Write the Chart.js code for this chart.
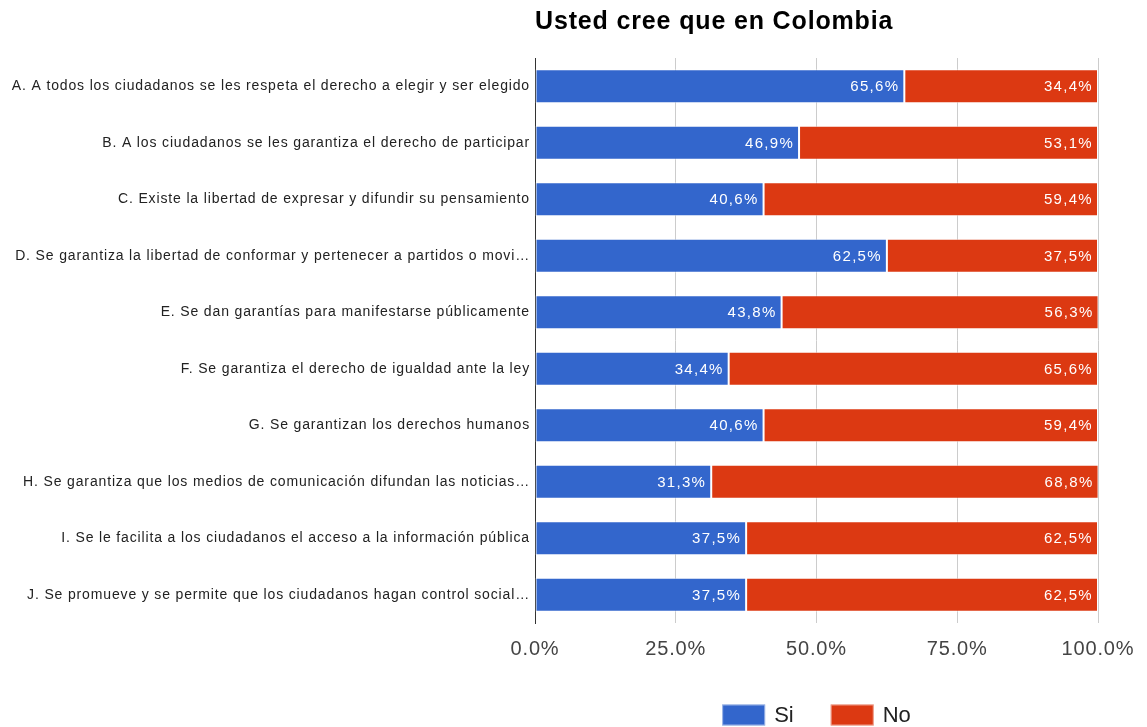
<!DOCTYPE html>
<html>
<head>
<meta charset="utf-8">
<script src="https://cdn.jsdelivr.net/npm/chart.js@4.4.1/dist/chart.umd.min.js"></script>
<style>
html,body{margin:0;padding:0;background:#fff;}
#wrap{width:1147px;height:727px;position:relative;}
</style>
</head>
<body>
<div id="wrap"><canvas id="c" width="1147" height="727"></canvas></div>
<script>
const categories = [
  "A. A todos los ciudadanos se les respeta el derecho a elegir y ser elegido",
  "B. A los ciudadanos se les garantiza el derecho de participar",
  "C. Existe la libertad de expresar y difundir su pensamiento",
  "D. Se garantiza la libertad de conformar y pertenecer a partidos o movi…",
  "E. Se dan garantías para manifestarse públicamente",
  "F. Se garantiza el derecho de igualdad ante la ley",
  "G. Se garantizan los derechos humanos",
  "H. Se garantiza que los medios de comunicación difundan las noticias…",
  "I. Se le facilita a los ciudadanos el acceso a la información pública",
  "J. Se promueve y se permite que los ciudadanos hagan control social…"
];
const siValues = [65.6, 46.9, 40.6, 62.5, 43.8, 34.4, 40.6, 31.3, 37.5, 37.5];
const noValues = [34.4, 53.1, 59.4, 37.5, 56.3, 65.6, 59.4, 68.8, 62.5, 62.5];
const xTicks = [0, 25, 50, 75, 100];
const seriesNames = ["Si", "No"];
const seriesColors = ["#3366cc", "#dc3912"];
const titleText = "Usted cree que en Colombia";

const FONT = "'Liberation Sans', Arial, sans-serif";

const spacing = {
  id: 'spacing',
  beforeDraw(chart) { chart.ctx.letterSpacing = '0.85px'; },
  afterDraw(chart) { chart.ctx.letterSpacing = '0px'; }
};

const valueLabels = {
  id: 'valueLabels',
  afterDatasetsDraw(chart) {
    const ctx = chart.ctx;
    ctx.save();
    ctx.letterSpacing = '1.3px';
    ctx.font = "15px " + FONT;
    ctx.fillStyle = "#ffffff";
    ctx.textAlign = "right";
    ctx.textBaseline = "middle";
    chart.data.datasets.forEach((ds, di) => {
      const meta = chart.getDatasetMeta(di);
      meta.data.forEach((bar, i) => {
        const v = ds.data[i];
        const txt = v.toFixed(1).replace('.', ',') + '%';
        ctx.fillText(txt, bar.x - 5, bar.y + 1);
      });
    });
    ctx.restore();
  }
};

const customLegend = {
  id: 'customLegend',
  afterDraw(chart) {
    const ctx = chart.ctx;
    const ca = chart.chartArea;
    ctx.save();
    ctx.letterSpacing = '0px';
    ctx.font = "22px " + FONT;
    ctx.textBaseline = "middle";
    ctx.textAlign = "left";
    const boxW = 43, boxH = 21, gapText = 9, gapItem = 37;
    const items = chart.data.datasets.map(ds => ({ label: ds.label, color: ds.backgroundColor, w: ctx.measureText(ds.label).width }));
    let total = 0;
    items.forEach((it, i) => { total += boxW + gapText + it.w + (i < items.length - 1 ? gapItem : 0); });
    let x = (ca.left + ca.right) / 2 - total / 2;
    const cy = 715;
    items.forEach(it => {
      ctx.fillStyle = it.color;
      ctx.fillRect(x, cy - boxH / 2, boxW, boxH);
      ctx.strokeStyle = 'rgba(255,255,255,0.5)';
      ctx.lineWidth = 1;
      ctx.strokeRect(x + 0.5, cy - boxH / 2 + 0.5, boxW - 1, boxH - 1);
      ctx.fillStyle = '#222';
      ctx.fillText(it.label, x + boxW + gapText, cy + 1);
      x += boxW + gapText + it.w + gapItem;
    });
    ctx.restore();
  }
};

new Chart(document.getElementById('c'), {
  type: 'bar',
  data: {
    labels: categories,
    datasets: [
      { label: seriesNames[0], data: siValues, backgroundColor: seriesColors[0], borderColor: 'rgba(255,255,255,0.55)', borderWidth: 1, borderSkipped: false, barPercentage: 0.6, categoryPercentage: 1.0 },
      { label: seriesNames[1], data: noValues, backgroundColor: seriesColors[1], borderColor: 'rgba(255,255,255,0.55)', borderWidth: 1, borderSkipped: false, barPercentage: 0.6, categoryPercentage: 1.0 }
    ]
  },
  options: {
    indexAxis: 'y',
    responsive: false,
    animation: false,
    layout: { padding: { left: 0, right: 49, top: 0, bottom: 66 } },
    scales: {
      x: {
        stacked: true,
        min: 0, max: 100,
        afterBuildTicks(scale) { scale.ticks = xTicks.map(v => ({ value: v })); },
        afterFit(scale) { scale.height = 38; },
        ticks: {
          callback: v => Number(v).toFixed(1) + '%',
          font: { family: FONT, size: 20 },
          color: '#444',
          padding: 14,
          maxRotation: 0
        },
        grid: {
          color: ctx => (ctx.tick && ctx.tick.value === 0) ? '#333' : '#cccccc',
          drawTicks: false,
          lineWidth: 1
        },
        border: { display: false }
      },
      y: {
        stacked: true,
        afterFit(scale) { scale.width = 535; },
        ticks: {
          font: { family: FONT, size: 14 },
          color: '#222',
          padding: 5,
          autoSkip: false
        },
        grid: { display: false, drawTicks: false },
        border: { display: true, color: '#333', width: 1 }
      }
    },
    plugins: {
      title: {
        display: true,
        text: titleText,
        align: 'start',
        fullSize: false,
        font: { family: FONT, size: 25, weight: 'bold', lineHeight: 1.2 },
        color: '#000',
        padding: { top: 7, bottom: 21 }
      },
      legend: { display: false },
      tooltip: { enabled: false }
    }
  },
  plugins: [spacing, valueLabels, customLegend]
});
</script>
</body>
</html>
